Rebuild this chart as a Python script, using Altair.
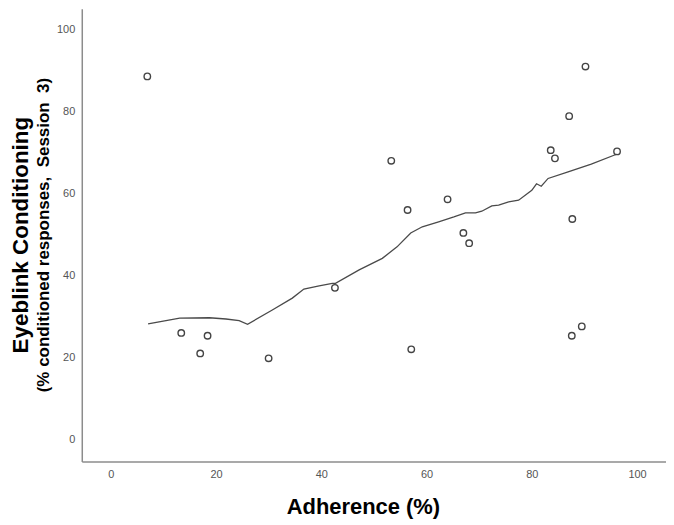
import altair as alt
import pandas as pd

# Scatter data (Adherence %, Eyeblink CR %)
adherence = [6.95, 13.4, 17.0, 18.4, 30.0, 42.6, 53.3, 56.4, 57.1, 64.0,
             67.0, 68.1, 83.6, 84.4, 87.1, 87.6, 87.7, 89.5, 90.2, 96.2]
eyeblink = [88.6, 26.0, 21.0, 25.3, 19.8, 37.0, 68.0, 56.0, 22.0, 58.6,
            50.4, 47.9, 70.6, 68.6, 78.9, 25.3, 53.8, 27.6, 91.0, 70.3]

# Loess fit line
fit_x = [7.1, 13.1, 18.75, 21.9, 24.4, 26.0, 30.7, 34.5, 36.7, 39.6, 42.1, 42.7,
         47.2, 51.6, 54.4, 57.0, 59.2, 62.3, 65.2, 67.4, 69.3, 70.5, 72.4, 73.7,
         75.6, 77.5, 80.0, 80.9, 81.8, 83.1, 86.9, 91.3, 96.1]
fit_y = [28.2, 29.6, 29.7, 29.4, 29.0, 28.1, 31.6, 34.5, 36.7, 37.5, 38.1, 38.1,
         41.4, 44.2, 47.0, 50.4, 51.9, 53.1, 54.3, 55.3, 55.3, 55.7, 57.0, 57.2,
         58.0, 58.4, 60.8, 62.4, 61.8, 63.7, 65.3, 67.2, 69.6]

x_ticks = [0, 20, 40, 60, 80, 100]
y_ticks = [0, 20, 40, 60, 80, 100]

pts = pd.DataFrame({"x": adherence, "y": eyeblink})
fit = pd.DataFrame({"x": fit_x, "y": fit_y})

FONT = "Liberation Sans"

xscale = alt.Scale(domain=[-5.5, 105.5], nice=False, zero=False)
yscale = alt.Scale(domain=[-5.35, 105.1], nice=False, zero=False)

xaxis = alt.Axis(values=x_ticks, title="Adherence (%)", grid=False, ticks=False,
                 domainColor="#8c8c8c", domainWidth=1.5,
                 labelColor="#555555", labelFontSize=11, labelFont=FONT, labelPadding=7,
                 titleFont=FONT, titleFontSize=22, titleFontWeight="bold",
                 titleColor="#000000", titlePadding=17, titleX=282)
yaxis = alt.Axis(values=y_ticks, title=None, grid=False, ticks=False,
                 domainColor="#8c8c8c", domainWidth=1.5,
                 labelColor="#555555", labelFontSize=11, labelFont=FONT, labelPadding=7)

line = alt.Chart(fit).mark_line(color="#4a4a4a", strokeWidth=1.3).encode(
    x=alt.X("x:Q", scale=xscale, axis=xaxis),
    y=alt.Y("y:Q", scale=yscale, axis=yaxis),
)

points = alt.Chart(pts).mark_point(shape="circle", filled=False, color="#444444",
                                   size=42, strokeWidth=1.4, opacity=1).encode(
    x=alt.X("x:Q", scale=xscale, axis=xaxis),
    y=alt.Y("y:Q", scale=yscale, axis=yaxis),
)

chart = alt.layer(line, points).properties(
    width=586,
    height=454,
    title=alt.TitleParams(
        "Eyeblink Conditioning",
        subtitle="(% conditioned responses,\u00a0\u00a0Session\u00a0\u00a03)",
        orient="left",
        anchor="middle",
        font=FONT,
        fontSize=22.5,
        fontWeight="bold",
        color="#000000",
        subtitleFont=FONT,
        subtitleFontSize=17,
        subtitleFontWeight="bold",
        subtitleColor="#000000",
        subtitlePadding=3,
        offset=5,
    ),
    autosize=alt.AutoSizeParams(type="none"),
    padding={"left": 74, "top": 0, "right": 0, "bottom": 62},
).configure_view(stroke=None)

chart.save("out.html", embed_options={"renderer": "svg", "actions": False})
